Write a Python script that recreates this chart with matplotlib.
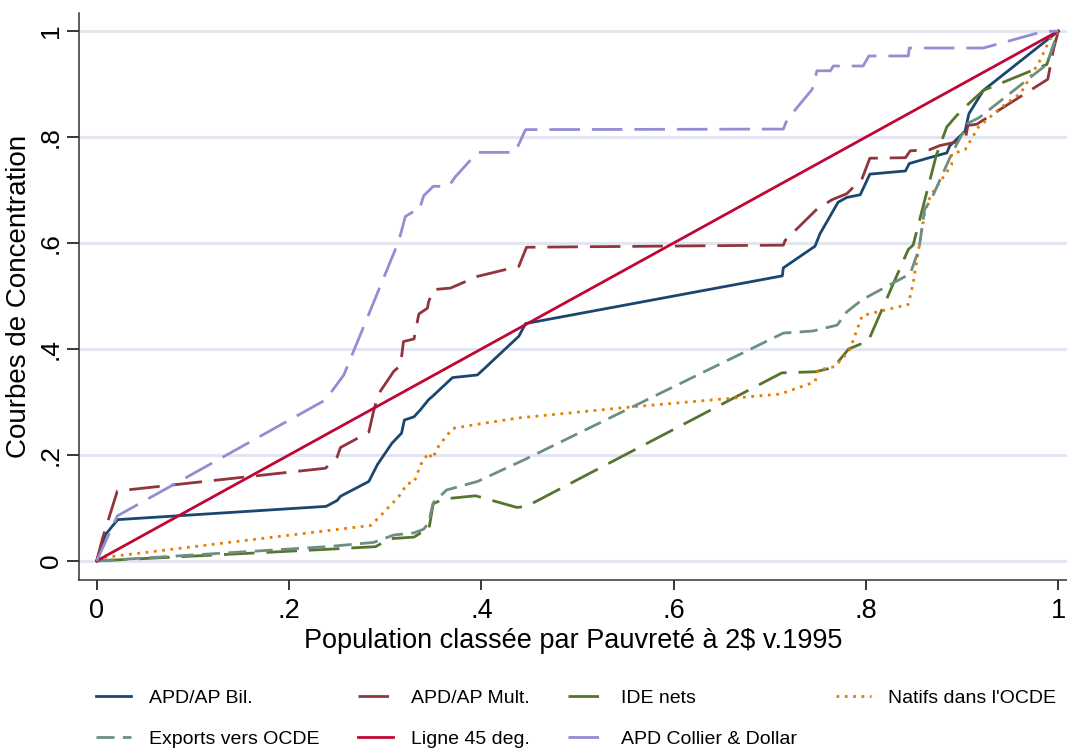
import matplotlib.pyplot as plt

plt.rcParams['font.family'] = ['Liberation Sans', 'DejaVu Sans']

# courbes de concentration (x = population cumulee, y = part cumulee)
bil_x = [0, 0.009, 0.016, 0.022, 0.2386, 0.250, 0.2535, 0.283, 0.292, 0.307, 0.317, 0.320, 0.330,
         0.337, 0.345, 0.350, 0.370, 0.396, 0.439, 0.446, 0.713, 0.714, 0.747, 0.752, 0.771, 0.780,
         0.794, 0.804, 0.841, 0.845, 0.866, 0.884, 0.887, 0.903, 0.907, 0.922, 1.0]
bil_y = [0, 0.049, 0.065, 0.078, 0.103, 0.114, 0.122, 0.150, 0.182, 0.222, 0.241, 0.266, 0.272,
         0.286, 0.304, 0.312, 0.346, 0.351, 0.424, 0.448, 0.538, 0.553, 0.594, 0.617, 0.677, 0.686,
         0.691, 0.730, 0.736, 0.750, 0.761, 0.770, 0.783, 0.811, 0.844, 0.888, 1.0]

mult_x = [0, 0.006, 0.0215, 0.238, 0.250, 0.2535, 0.283, 0.288, 0.293, 0.309, 0.316, 0.319, 0.330,
          0.335, 0.344, 0.345, 0.350, 0.368, 0.396, 0.439, 0.447, 0.714, 0.716, 0.749, 0.765, 0.780,
          0.796, 0.804, 0.841, 0.846, 0.866, 0.877, 0.903, 0.906, 0.915, 0.989, 0.995, 1.0]
mult_y = [0, 0.042, 0.132, 0.175, 0.196, 0.214, 0.243, 0.283, 0.315, 0.358, 0.369, 0.414, 0.419,
          0.466, 0.477, 0.488, 0.512, 0.515, 0.537, 0.556, 0.592, 0.596, 0.605, 0.664, 0.682, 0.693,
          0.722, 0.760, 0.761, 0.774, 0.776, 0.784, 0.794, 0.822, 0.824, 0.909, 0.966, 1.0]

ide_x = [0, 0.240, 0.290, 0.305, 0.330, 0.337, 0.345, 0.350, 0.361, 0.394, 0.437, 0.447, 0.7125,
         0.747, 0.766, 0.782, 0.794, 0.797, 0.804, 0.844, 0.849, 0.873, 0.884, 0.894, 0.908, 0.922,
         0.988, 1.0]
ide_y = [0, 0.022, 0.027, 0.042, 0.045, 0.053, 0.055, 0.108, 0.117, 0.123, 0.101, 0.103, 0.355,
         0.357, 0.365, 0.400, 0.409, 0.419, 0.422, 0.588, 0.596, 0.765, 0.819, 0.840, 0.865, 0.888,
         0.937, 1.0]

natifs_x = [0, 0.009, 0.285, 0.295, 0.314, 0.323, 0.330, 0.337, 0.345, 0.349, 0.356, 0.370, 0.396,
            0.439, 0.558, 0.711, 0.747, 0.750, 0.768, 0.783, 0.796, 0.844, 0.849, 0.861, 0.867,
            0.889, 0.889, 0.903, 0.917, 0.940, 0.961, 0.981, 0.991, 1.0]
natifs_y = [0, 0.007, 0.067, 0.085, 0.121, 0.146, 0.148, 0.182, 0.204, 0.193, 0.218, 0.250, 0.258,
            0.270, 0.291, 0.315, 0.338, 0.360, 0.367, 0.398, 0.463, 0.484, 0.524, 0.657, 0.689,
            0.747, 0.768, 0.776, 0.819, 0.855, 0.883, 0.945, 0.984, 1.0]

exports_x = [0, 0.240, 0.288, 0.309, 0.330, 0.340, 0.345, 0.350, 0.364, 0.396, 0.447, 0.714, 0.745,
             0.770, 0.780, 0.796, 0.846, 0.855, 0.861, 0.868, 0.889, 0.906, 0.918, 0.988, 1.0]
exports_y = [0, 0.027, 0.035, 0.049, 0.053, 0.060, 0.071, 0.110, 0.134, 0.150, 0.193, 0.430, 0.434,
             0.445, 0.470, 0.493, 0.542, 0.588, 0.664, 0.683, 0.768, 0.826, 0.837, 0.937, 1.0]

ligne_x = [0, 1]
ligne_y = [0, 1]

collier_x = [0, 0.0215, 0.238, 0.257, 0.288, 0.314, 0.321, 0.330, 0.335, 0.340, 0.350, 0.366, 0.373,
             0.396, 0.435, 0.446, 0.714, 0.718, 0.744, 0.749, 0.763, 0.766, 0.797, 0.803, 0.844,
             0.845, 0.922, 0.984, 1.0]
collier_y = [0, 0.085, 0.304, 0.351, 0.488, 0.603, 0.650, 0.660, 0.660, 0.689, 0.707, 0.707, 0.725,
             0.771, 0.771, 0.814, 0.815, 0.833, 0.890, 0.925, 0.925, 0.934, 0.934, 0.953, 0.953,
             0.968, 0.968, 0.999, 1.0]

fig = plt.figure(figsize=(10.67, 7.49), dpi=100)
ax = fig.add_axes([0.074, 0.2256, 0.926, 0.757])

longdash = (0, (11, 4.3))
lw = 2
l1, = ax.plot(bil_x, bil_y, color='#1a476f', lw=lw, label='APD/AP Bil.')
l2, = ax.plot(mult_x, mult_y, color='#90353b', lw=lw, ls=longdash, label='APD/AP Mult.')
l3, = ax.plot(ide_x, ide_y, color='#55752f', lw=lw, ls=longdash, label='IDE nets')
l4, = ax.plot(natifs_x, natifs_y, color='#e37e00', lw=lw, ls=(0, (1, 2)), label="Natifs dans l'OCDE")
l5, = ax.plot(exports_x, exports_y, color='#6e8e84', lw=lw, ls=(0, (6.5, 3)), label='Exports vers OCDE')
l6, = ax.plot(ligne_x, ligne_y, color='#c10534', lw=lw, label='Ligne 45 deg.')
l7, = ax.plot(collier_x, collier_y, color='#938dd2', lw=lw, ls=longdash, label='APD Collier & Dollar')

ax.set_xlim(-0.0184, 1.009)
ax.set_ylim(-0.036, 1.034)
ticks = [0, 0.2, 0.4, 0.6, 0.8, 1]
ticklabels = ['0', '.2', '.4', '.6', '.8', '1']
ax.set_xticks(ticks)
ax.set_xticklabels(ticklabels)
ax.set_yticks(ticks)
ax.set_yticklabels(ticklabels, rotation=90, va='center')
ax.yaxis.grid(True, color='#e3e6f0', lw=2.2)
ax.set_axisbelow(True)
ax.spines['top'].set_visible(False)
ax.spines['right'].set_visible(False)
for s in ['left', 'bottom']:
    ax.spines[s].set_linewidth(1.1)
    ax.spines[s].set_color('#333333')
ax.tick_params(axis='x', length=7, width=1.1, pad=6, labelsize=19.5)
ax.tick_params(axis='y', length=8.5, width=1.1, pad=3, labelsize=19)

ax.set_xlabel('Population classée par Pauvreté à 2$ v.1995', fontsize=19.5, labelpad=3)
ax.set_ylabel('Courbes de Concentration', fontsize=20)
ax.yaxis.set_label_coords(-0.0475, 0.5)

# ordre ligne par ligne sur 4 colonnes
handles = [l1, l5, l2, l6, l3, l7, l4]
fig.legend(handles=handles, labels=[h.get_label() for h in handles], loc='center',
           bbox_to_anchor=(0.54, 0.041), ncol=4, frameon=False, fontsize=14,
           handlelength=1.8, handletextpad=0.9, columnspacing=2.0, labelspacing=1.2)

plt.savefig('out.png', dpi=100)
